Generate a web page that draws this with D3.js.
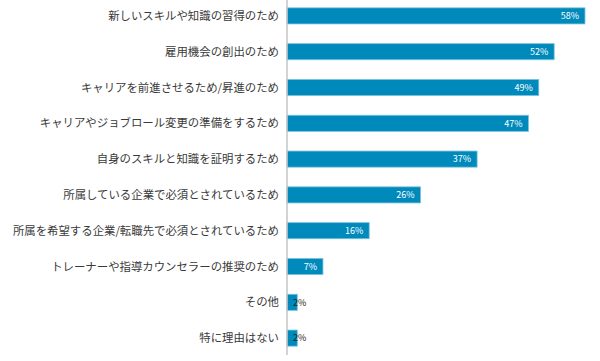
<!DOCTYPE html>
<html>
<head>
<meta charset="utf-8">
<script src="https://cdn.jsdelivr.net/npm/d3@7"></script>
<style>
  body { margin: 0; background: #fff; }
  svg text { font-family: "Noto Sans CJK JP", "Noto Sans", sans-serif; }
</style>
</head>
<body>
<div class="graph"></div>
<script>
var categories = [
  "新しいスキルや知識の習得のため",
  "雇用機会の創出のため",
  "キャリアを前進させるため/昇進のため",
  "キャリアやジョブロール変更の準備をするため",
  "自身のスキルと知識を証明するため",
  "所属している企業で必須とされているため",
  "所属を希望する企業/転職先で必須とされているため",
  "トレーナーや指導カウンセラーの推奨のため",
  "その他",
  "特に理由はない"
]
var values = [58, 52, 49, 47, 37, 26, 16, 7, 2, 2]

var w = 600
var h = 361
var x0 = 287

var svg = d3.select('.graph')
  .append("svg")
  .attr("width", w)
  .attr("height", h)

var x = d3.scaleLinear()
  .domain([0, 58])
  .range([x0, 585])

var y = d3.scaleBand()
  .domain(categories)
  .range([-2, 356])
  .paddingInner(0.55)
  .paddingOuter(0.275)

svg.selectAll("rect.bar")
  .data(values)
  .enter()
  .append("rect")
  .attr("class", "bar")
  .attr("x", x0)
  .attr("y", function(d, i){ return y(categories[i]) })
  .attr("width", function(d){ return x(d) - x0 })
  .attr("height", y.bandwidth())
  .attr("fill", "#008abb")
  .attr("stroke", "#7cc3de")
  .attr("stroke-width", 0.8)

// category labels
svg.selectAll("text.cat")
  .data(categories)
  .enter()
  .append("text")
  .attr("class", "cat")
  .text(function(d){ return d })
  .attr("x", 279)
  .attr("y", function(d){ return y(d) + y.bandwidth() / 2 })
  .attr("dy", "0.36em")
  .attr("text-anchor", "end")
  .attr("font-size", "11.4px")
  .attr("fill", "#3a3a3a")

// value labels
svg.selectAll("text.val")
  .data(values)
  .enter()
  .append("text")
  .attr("class", "val")
  .text(function(d){ return d + "%" })
  .attr("x", function(d){ return (x(d) - x0) > 25 ? x(d) - 6 : x0 + 6 })
  .attr("y", function(d, i){ return y(categories[i]) + y.bandwidth() / 2 })
  .attr("dy", "0.36em")
  .attr("text-anchor", function(d){ return (x(d) - x0) > 25 ? "end" : "start" })
  .attr("font-size", "9px")
  .attr("fill", function(d){ return (x(d) - x0) > 25 ? "#fff" : "#222" })

// axis line
svg.append("line")
  .attr("x1", x0)
  .attr("x2", x0)
  .attr("y1", 0)
  .attr("y2", 355)
  .attr("stroke", "#c4c4c4")
  .attr("stroke-width", 1.5)
</script>
</body>
</html>
